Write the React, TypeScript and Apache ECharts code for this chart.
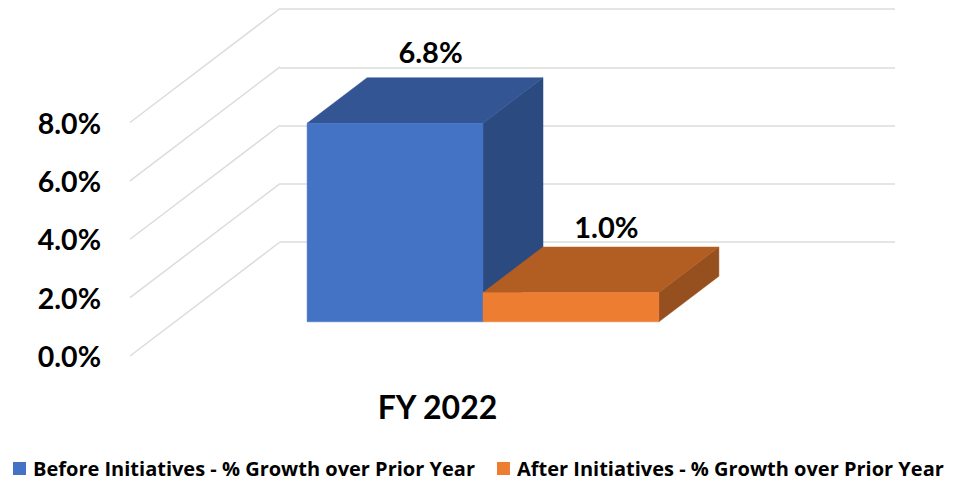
import React, { useEffect, useRef } from "react";
import * as echarts from "echarts";

const categories = ["FY 2022"];
const beforeValues = [6.8];
const afterValues = [1.0];
const yTicks = [0, 2, 4, 6, 8];
const seriesNames = [
  "Before Initiatives - % Growth over Prior Year",
  "After Initiatives - % Growth over Prior Year",
];

const FONT = "Lato, 'Open Sans', sans-serif";
const LEGEND_FONT = "'Open Sans', sans-serif";
const GRID_COLOR = "#dcdcdc";
const DEPTH_X = 150;
const DEPTH_Y = -114;
const BAR_RATIO = 0.286;
const BAR_NEAR = 0.3;
const BAR_FAR = 0.7;
const LABEL_OFFSET_Y = [-26, -21];

const palettes = [
  { front: "#4472C4", top: "#335593", side: "#2B4A80" },
  { front: "#ED7D31", top: "#B25E23", side: "#964F1E" },
];

const fmt = (v: number) => v.toFixed(1) + "%";

function barRenderer(seriesIdx: number) {
  return (_params: any, api: any) => {
    const cat = api.value(0);
    const val = api.value(1);
    const [cx, yTop0] = api.coord([cat, val]);
    const [, yBase0] = api.coord([cat, 0]);
    const w = api.size([1, 0])[0] * BAR_RATIO;
    const x0 = cx + (seriesIdx === 0 ? -w : 0) + DEPTH_X * BAR_NEAR + 0.5;
    const x1 = x0 + w;
    const yTop = yTop0 + DEPTH_Y * BAR_NEAR;
    const yBase = yBase0 + DEPTH_Y * BAR_NEAR;
    const dx = DEPTH_X * (BAR_FAR - BAR_NEAR);
    const dy = DEPTH_Y * (BAR_FAR - BAR_NEAR);
    const p = palettes[seriesIdx];
    const poly = (points: number[][], fill: string) => ({
      type: "polygon",
      shape: { points },
      style: { fill, stroke: fill, lineWidth: 0.5 },
    });
    return {
      type: "group",
      children: [
        poly([[x1, yTop], [x1 + dx, yTop + dy], [x1 + dx, yBase + dy], [x1, yBase]], p.side),
        poly([[x0, yTop], [x0 + dx, yTop + dy], [x1 + dx, yTop + dy], [x1, yTop]], p.top),
        poly([[x0, yTop], [x1, yTop], [x1, yBase], [x0, yBase]], p.front),
        {
          type: "text",
          style: {
            text: fmt(val),
            x: (x0 + x1 + dx) / 2 + 5.5,
            y: yTop + dy + LABEL_OFFSET_Y[seriesIdx],
            fill: "#000000",
            font: `bold 29px ${FONT}`,
            align: "center",
            verticalAlign: "middle",
          },
        },
      ],
    };
  };
}

function diagonalRenderer(params: any, api: any) {
  const v = api.value(0);
  const left = params.coordSys.x;
  const y = api.coord([0, v])[1];
  return {
    type: "line",
    shape: { x1: left, y1: y, x2: left + DEPTH_X, y2: y + DEPTH_Y },
    style: { stroke: GRID_COLOR, lineWidth: 1.5, fill: "none" },
    silent: true,
  };
}

export default function App() {
  const ref = useRef<HTMLDivElement>(null);
  useEffect(() => {
    const chart = echarts.init(ref.current!, undefined, { renderer: "svg" });
    chart.setOption({
      animation: false,
      backgroundColor: "#ffffff",
      textStyle: { fontFamily: FONT },
      legend: {
        data: seriesNames,
        left: 13,
        top: 458.5,
        padding: 0,
        itemWidth: 13,
        itemHeight: 13,
        itemGap: 22,
        icon: "rect",
        selectedMode: false,
        textStyle: {
          fontFamily: LEGEND_FONT,
          fontWeight: "bold",
          fontSize: 20,
          color: "#000000",
          padding: [0, 0, 0, 2],
        },
      },
      grid: [
        { left: 130, top: 122.5, width: 615, height: 233.5 },
        { left: 280, top: 9, width: 615, height: 233 },
      ],
      xAxis: [
        {
          type: "category",
          gridIndex: 0,
          data: categories,
          axisLine: { show: false },
          axisTick: { show: false },
          splitLine: { show: false },
          axisLabel: {
            margin: 34,
            fontFamily: FONT,
            fontWeight: "bold",
            fontSize: 32,
            color: "#000000",
          },
        },
        {
          type: "category",
          gridIndex: 1,
          data: categories,
          show: false,
        },
      ],
      yAxis: [
        {
          type: "value",
          gridIndex: 0,
          min: 0,
          max: 8,
          interval: 2,
          axisLine: { show: false },
          axisTick: { show: false },
          splitLine: { show: false },
          axisLabel: {
            margin: 29,
            formatter: (v: number) => fmt(v),
            fontFamily: FONT,
            fontWeight: "bold",
            fontSize: 28.5,
            color: "#000000",
          },
        },
        {
          type: "value",
          gridIndex: 1,
          min: 0,
          max: 8,
          interval: 2,
          axisLine: { show: false },
          axisTick: { show: false },
          axisLabel: { show: false },
          splitLine: { show: true, lineStyle: { color: GRID_COLOR, width: 1.5 } },
        },
      ],
      series: [
        {
          type: "custom",
          name: "gridDiagonals",
          xAxisIndex: 0,
          yAxisIndex: 0,
          silent: true,
          z: 1,
          encode: { y: 0 },
          data: yTicks.map((t) => [t]),
          renderItem: diagonalRenderer,
        },
        {
          type: "custom",
          name: seriesNames[0],
          xAxisIndex: 0,
          yAxisIndex: 0,
          z: 3,
          itemStyle: { color: palettes[0].front },
          encode: { x: 0, y: 1 },
          data: beforeValues.map((v, i) => [i, v]),
          renderItem: barRenderer(0),
        },
        {
          type: "custom",
          name: seriesNames[1],
          xAxisIndex: 0,
          yAxisIndex: 0,
          z: 4,
          itemStyle: { color: palettes[1].front },
          encode: { x: 0, y: 1 },
          data: afterValues.map((v, i) => [i, v]),
          renderItem: barRenderer(1),
        },
      ],
    });
    return () => chart.dispose();
  }, []);
  return (
    <div
      ref={ref}
      style={{ position: "fixed", left: 0, top: 0, width: 959, height: 478 }}
    />
  );
}
